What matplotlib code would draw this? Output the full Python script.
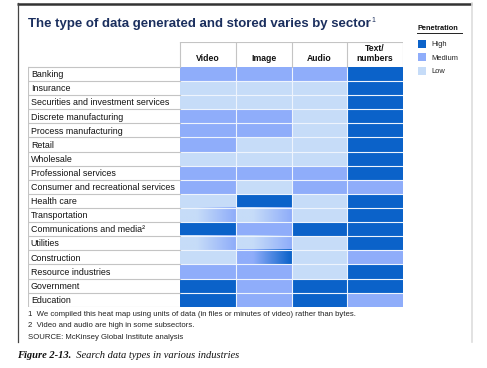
import matplotlib
matplotlib.use("Agg")
import matplotlib.pyplot as plt
from matplotlib.patches import Rectangle
from matplotlib.colors import LinearSegmentedColormap
import numpy as np

plt.rcParams['font.family'] = ['Liberation Sans', 'DejaVu Sans']

title = "The type of data generated and stored varies by sector"
columns = ["Video", "Image", "Audio", "Text/\nnumbers"]
sectors = ["Banking", "Insurance", "Securities and investment services",
           "Discrete manufacturing", "Process manufacturing", "Retail",
           "Wholesale", "Professional services", "Consumer and recreational services",
           "Health care", "Transportation", "Communications and media\u00b2",
           "Utilities", "Construction", "Resource industries", "Government",
           "Education"]
# L = low, M = medium, H = high, "A>B" = shades from A to B within the cell
video = ["M", "L", "L", "M", "M", "M", "L", "M", "M", "L", "L>M", "H", "L>M", "L", "M", "H", "H"]
image = ["M", "L", "L", "M", "M", "L", "L", "M", "L", "H", "L>M", "M", "L>M", "M>H", "M", "M", "M"]
audio = ["M", "L", "L", "L", "L", "L", "L", "M", "M", "L", "L", "H", "L", "L", "L", "H", "H"]
text = ["H", "H", "H", "H", "H", "H", "H", "H", "M", "H", "H", "H", "H", "M", "H", "H", "M"]
legend_title = "Penetration"
legend_labels = ["High", "Medium", "Low"]
footnotes = ["1  We compiled this heat map using units of data (in files or minutes of video) rather than bytes.",
             "2  Video and audio are high in some subsectors.",
             "SOURCE: McKinsey Global Institute analysis"]
caption_bold = "Figure 2-13."
caption_rest = "  Search data types in various industries"

colors = {"H": "#0b62c9", "M": "#8fadfa", "L": "#c6dcf8"}
grid_gray = "#c4c4c4"
navy = "#1b2f5e"

W, H = 487, 368
fig = plt.figure(figsize=(W / 100, H / 100), dpi=100)
renderer = fig.canvas.get_renderer()

# overlay axes in pixel coordinates for frame and free text
ov = fig.add_axes([0, 0, 1, 1])
ov.set_xlim(0, W)
ov.set_ylim(H, 0)
ov.axis("off")

def right_edge_px(t):
    bb = t.get_window_extent(renderer=renderer)
    return bb.x1

# frame
ov.plot([17, 472], [3.5, 3.5], color="#333333", lw=1.8, solid_capstyle="butt")
ov.plot([17.5, 17.5], [3, 342], color="#444444", lw=0.9)
ov.plot([472, 472], [3, 342], color="#dddddd", lw=1.2)

t = ov.text(28, 27, title, fontsize=9.5, fontweight="bold", color=navy, va="baseline", ha="left")
ov.text(right_edge_px(t) + 1, 22, "1", fontsize=5, color=navy, va="baseline", ha="left")

# legend
ov.text(418, 29.5, legend_title, fontsize=5.3, fontweight="bold", color="#111111", va="baseline")
ov.plot([417, 462], [33, 33], color="#222222", lw=0.7)
for i, (lab, key) in enumerate(zip(legend_labels, ["H", "M", "L"])):
    y0 = 40 + i * 13.3
    ov.add_patch(Rectangle((418, y0), 8, 8, color=colors[key], lw=0))
    ov.text(431, y0 + 6.5, lab, fontsize=5.4, color="#222222", va="baseline")

for i, fn in enumerate(footnotes):
    ov.text(28, 316 + i * 11.3, fn, fontsize=5.6, color="#222222", va="baseline")

cb = ov.text(17, 358, caption_bold, fontsize=7.6, fontstyle="italic", fontweight="bold",
             family="Liberation Serif", va="baseline", color="#111111")
ov.text(right_edge_px(cb), 358, caption_rest, fontsize=7.6, fontstyle="italic",
        family="Liberation Serif", va="baseline", color="#111111")

# table axes
left_px, right_px = 28, 403
top_px, bot_px = 41.7, 306.7
cell_w = (403 - 180) / 4.0
label_units = (180 - 28) / cell_w
nrows = len(sectors)
row_h = (bot_px - 67) / nrows
head_units = (67 - top_px) / row_h

ax = fig.add_axes([left_px / W, 1 - bot_px / H, (right_px - left_px) / W, (bot_px - top_px) / H])
ax.set_xlim(-label_units, len(columns))
ax.set_ylim(nrows, -head_units)
ax.axis("off")

data = [video, image, audio, text]

def grad_cmap(a, b):
    return LinearSegmentedColormap.from_list("g", [(0, colors[a]), (0.3, colors[a]), (1, colors[b])])

for c, col in enumerate(data):
    for r, v in enumerate(col):
        if ">" in v:
            a, b = v.split(">")
            g = np.linspace(0, 1, 64).reshape(1, -1)
            ax.imshow(g, cmap=grad_cmap(a, b), aspect="auto", extent=(c, c + 1, r + 1, r),
                      interpolation="bilinear", zorder=1)
        else:
            ax.add_patch(Rectangle((c, r), 1, 1, color=colors[v], lw=0, zorder=1))

# light separators between heat cells
for r in range(1, nrows):
    ax.plot([0, len(columns)], [r, r], color="#eef4fd", lw=0.8, zorder=2)
for c in range(1, len(columns)):
    ax.plot([c, c], [0, nrows], color="#eef4fd", lw=0.8, zorder=2)

# label column borders
for r in range(nrows + 1):
    ax.plot([-label_units, 0], [r, r], color=grid_gray, lw=0.8, zorder=2)
ax.plot([-label_units, -label_units], [0, nrows], color=grid_gray, lw=0.8, zorder=2)

for r, s in enumerate(sectors):
    ax.text(-label_units + 0.05, r + 0.55, s, fontsize=6.4, color="#111111", va="center", ha="left")

# header boxes
ax.plot([0, len(columns)], [-head_units, -head_units], color=grid_gray, lw=0.8)
for c in range(len(columns) + 1):
    ax.plot([c, c], [-head_units, 0], color=grid_gray, lw=0.8)
for c, name in enumerate(columns):
    ax.text(c + 0.5, -0.3, name, fontsize=6.2, fontweight="bold", color="#111111",
            ha="center", va="bottom", linespacing=1.1)

fig.savefig("out.png", dpi=100)
